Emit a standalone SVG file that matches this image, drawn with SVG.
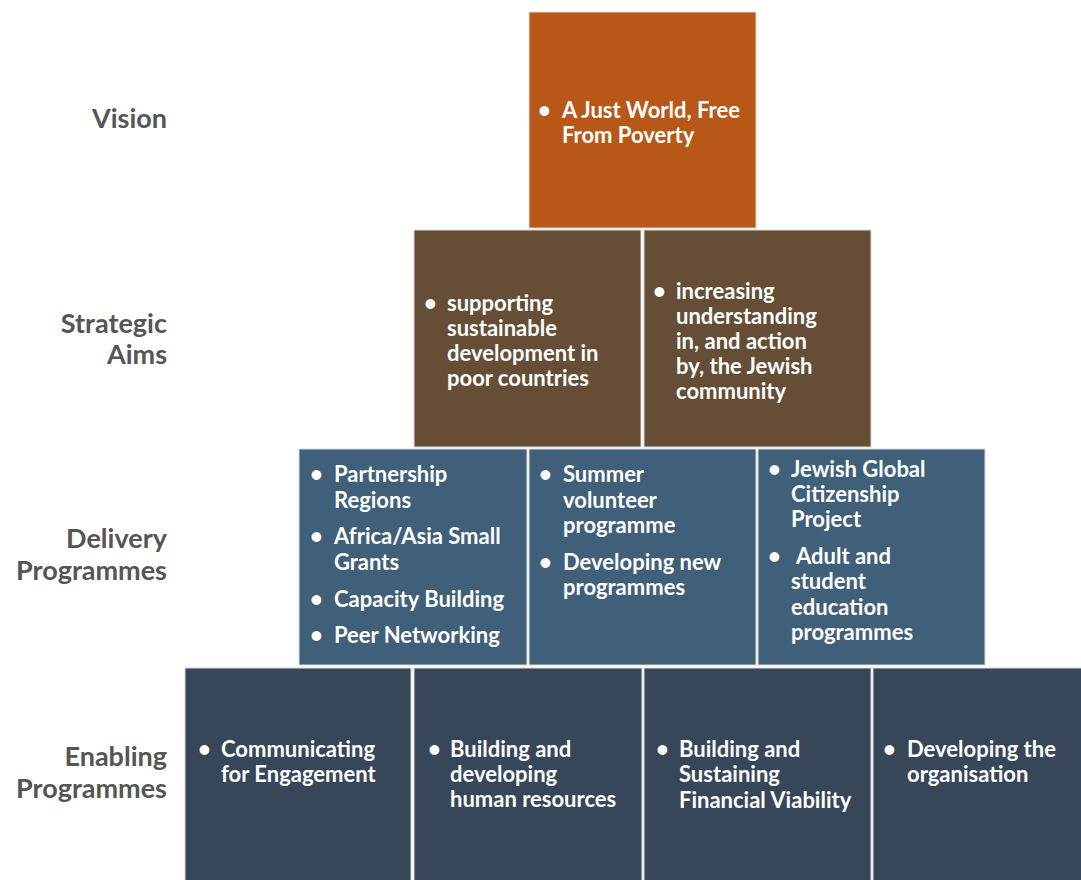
<svg xmlns="http://www.w3.org/2000/svg" width="1081" height="880" viewBox="0 0 1081 880">
<style>
.lbl{font-family:Lato,"Open Sans",sans-serif;font-weight:bold;font-size:27px;fill:#555555;text-anchor:end}
.t{font-family:Lato,"Open Sans",sans-serif;font-weight:bold;font-size:22px;fill:#ffffff}
.b{stroke:#d9d9d9;stroke-width:1}
.vis{fill:#B85818}
.str{fill:#654E35}
.del{fill:#40607A}
.ena{fill:#38465A}
</style>
<rect width="1081" height="880" fill="#ffffff"/>
<g id="labels">
<text class="lbl" x="167" y="128">Vision</text>
<text class="lbl" x="167" y="333">Strategic</text>
<text class="lbl" x="167" y="364">Aims</text>
<text class="lbl" x="167" y="548">Delivery</text>
<text class="lbl" x="167" y="580">Programmes</text>
<text class="lbl" x="167" y="766">Enabling</text>
<text class="lbl" x="167" y="798">Programmes</text>
</g>
<g id="vision">
<rect class="vis b" x="529" y="12" width="227" height="216"/>
<text class="t"><tspan x="538" y="118">•</tspan><tspan x="562" y="118">A Just World, Free</tspan><tspan x="562" y="143">From Poverty</tspan></text>
</g>
<g id="aim1">
<rect class="str b" x="414" y="230" width="227" height="217"/>
<text class="t"><tspan x="424" y="311">•</tspan><tspan x="447" y="311">supporting</tspan><tspan x="447" y="336">sustainable</tspan><tspan x="447" y="361">development in</tspan><tspan x="447" y="386">poor countries</tspan></text>
</g>
<g id="aim2">
<rect class="str b" x="644" y="230" width="227" height="217"/>
<text class="t"><tspan x="653" y="299">•</tspan><tspan x="676" y="299">increasing</tspan><tspan x="676" y="324">understanding</tspan><tspan x="676" y="349">in, and action</tspan><tspan x="676" y="374">by, the Jewish</tspan><tspan x="676" y="399">community</tspan></text>
</g>
<g id="del1">
<rect class="del b" x="299" y="449" width="228" height="216"/>
<text class="t"><tspan x="310" y="482">•</tspan><tspan x="334" y="482">Partnership</tspan><tspan x="334" y="508">Regions</tspan><tspan x="310" y="544">•</tspan><tspan x="334" y="544">Africa/Asia Small</tspan><tspan x="334" y="570">Grants</tspan><tspan x="310" y="607">•</tspan><tspan x="334" y="607">Capacity Building</tspan><tspan x="310" y="643">•</tspan><tspan x="334" y="643">Peer Networking</tspan></text>
</g>
<g id="del2">
<rect class="del b" x="529" y="449" width="227" height="216"/>
<text class="t"><tspan x="539" y="482">•</tspan><tspan x="563" y="482">Summer</tspan><tspan x="563" y="508">volunteer</tspan><tspan x="563" y="533">programme</tspan><tspan x="539" y="570">•</tspan><tspan x="563" y="570">Developing new</tspan><tspan x="563" y="595">programmes</tspan></text>
</g>
<g id="del3">
<rect class="del b" x="758" y="449" width="227" height="216"/>
<text class="t"><tspan x="768" y="477">•</tspan><tspan x="791" y="477">Jewish Global</tspan><tspan x="791" y="502">Citizenship</tspan><tspan x="791" y="527">Project</tspan><tspan x="768" y="564">•</tspan><tspan x="796" y="564">Adult and</tspan><tspan x="791" y="589">student</tspan><tspan x="791" y="615">education</tspan><tspan x="791" y="640">programmes</tspan></text>
</g>
<g id="ena1">
<rect class="ena b" x="185" y="668" width="226" height="214"/>
<text class="t"><tspan x="198" y="757">•</tspan><tspan x="221" y="757">Communicating</tspan><tspan x="221" y="782">for Engagement</tspan></text>
</g>
<g id="ena2">
<rect class="ena b" x="414" y="668" width="228" height="214"/>
<text class="t"><tspan x="428" y="757">•</tspan><tspan x="450" y="757">Building and</tspan><tspan x="450" y="782">developing</tspan><tspan x="450" y="807">human resources</tspan></text>
</g>
<g id="ena3">
<rect class="ena b" x="644" y="668" width="227" height="214"/>
<text class="t"><tspan x="656" y="757">•</tspan><tspan x="679" y="757">Building and</tspan><tspan x="679" y="782">Sustaining</tspan><tspan x="679" y="808">Financial Viability</tspan></text>
</g>
<g id="ena4">
<rect class="ena b" x="873" y="668" width="210" height="214"/>
<text class="t"><tspan x="883" y="757">•</tspan><tspan x="907" y="757">Developing the</tspan><tspan x="907" y="782">organisation</tspan></text>
</g>
<g id="connectors"></g>
</svg>
